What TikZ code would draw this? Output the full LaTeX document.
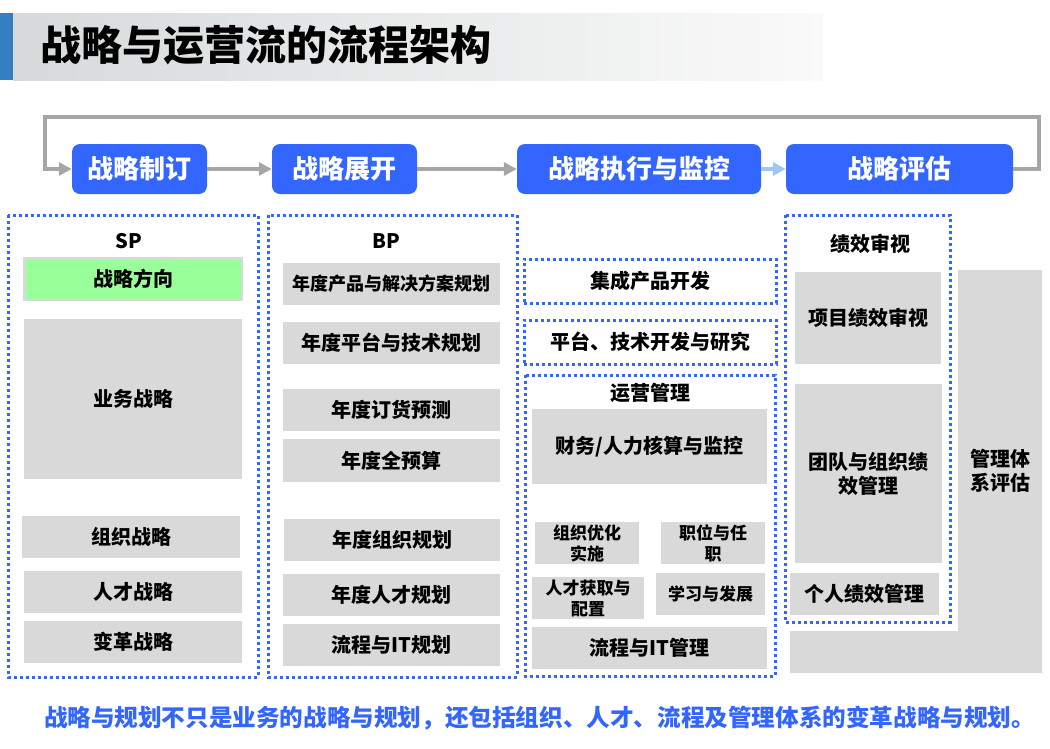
\documentclass[tikz,border=0pt]{standalone}
\usepackage{fontspec}
\usepackage{tikz}
\usepackage{color}
\usetikzlibrary{arrows.meta}
\setmainfont{Noto Sans CJK SC}
\definecolor{flowblue}{RGB}{51,102,255}
\definecolor{lightarrow}{RGB}{157,199,250}
\definecolor{arrowgray}{RGB}{166,166,166}
\definecolor{boxgray}{RGB}{217,217,217}
\definecolor{dirgreen}{RGB}{153,255,153}
\definecolor{titleblue}{RGB}{52,126,194}
\newcommand{\pxfont}[2]{\fontsize{#1}{#2}\selectfont\bfseries}

\begin{document}
\begin{tikzpicture}[x=1pt,y=-1pt,
  flow/.style={fill=flowblue,rounded corners=8pt,text=white,font=\pxfont{26}{26},inner sep=0pt},
  flowarrow/.style={draw=arrowgray,line width=4pt,-{Triangle[length=13pt,width=13pt]}},
  dotbox/.style={draw=flowblue,line width=3pt,dash pattern=on 3pt off 3pt},
  graybox/.style={fill=boxgray,inner sep=0pt,align=center,font=\pxfont{20}{24}},
  head/.style={inner sep=0pt,font=\pxfont{20}{24}}]
\useasboundingbox (0,0) rectangle (1050,748);
\fill[titleblue] (0,13) rectangle (13,80);
\shade[left color={rgb,255:red,214;green,218;blue,219},right color={rgb,255:red,250;green,250;blue,250}] (13,13) rectangle (823,80);
\node[anchor=west,inner sep=0pt,font=\pxfont{41}{41}] (title) at (40,45) {战略与运营流的流程架构};

\node[flow,minimum width=135,minimum height=50] (plan) at (139.5,169) {战略制订};
\node[flow,minimum width=145,minimum height=50] (deploy) at (344.5,169) {战略展开};
\node[flow,minimum width=244,minimum height=50] (exec) at (639,169) {战略执行与监控};
\node[flow,minimum width=227,minimum height=50] (eval) at (899.5,169) {战略评估};
\coordinate (loopR) at (1039,117);
\coordinate (loopL) at (45,117);
\draw[flowarrow] (plan) -- (deploy);
\draw[flowarrow] (deploy) -- (exec);
\draw[flowarrow,draw=lightarrow] (exec) -- (eval);
\draw[flowarrow] (eval.east) -| (loopR) -- (loopL) |- (plan.west);

\draw[dotbox] (8,215) rectangle (258,677);
\node[head] (sp) at (129,241) {SP};
\node[graybox,draw=boxgray,line width=2.5pt,fill=dirgreen,minimum width=217.5,minimum height=41.5] (dir) at (133,279) {战略方向};
\node[graybox,minimum width=218,minimum height=160] (biz) at (133,399) {业务战略};
\node[graybox,minimum width=218,minimum height=42] (org) at (131,537) {组织战略};
\node[graybox,minimum width=218,minimum height=42] (talent) at (133,592) {人才战略};
\node[graybox,minimum width=218,minimum height=42] (change) at (133,642) {变革战略};

\draw[dotbox] (268,215) rectangle (517,677);
\node[head] (bp) at (386,241) {BP};
\node[graybox,minimum width=217,minimum height=42,font=\pxfont{18}{22}] (prod) at (391.5,284) {年度产品与解决方案规划};
\node[graybox,minimum width=217,minimum height=42] (platform) at (391.5,343) {年度平台与技术规划};
\node[graybox,minimum width=217,minimum height=42] (order) at (391.5,410) {年度订货预测};
\node[graybox,minimum width=217,minimum height=43] (budget) at (391.5,460.5) {年度全预算};
\node[graybox,minimum width=216,minimum height=42] (orgplan) at (392,540) {年度组织规划};
\node[graybox,minimum width=217,minimum height=42] (talentplan) at (391.5,595) {年度人才规划};
\node[graybox,minimum width=217,minimum height=42] (itplan) at (391.5,645) {流程与IT规划};

\node[dotbox,minimum width=252,minimum height=44,font=\pxfont{20}{24}] (ipd) at (650,281) {集成产品开发};
\node[dotbox,minimum width=252,minimum height=44,font=\pxfont{20}{24}] (tech) at (650,342) {平台、技术开发与研究};
\draw[dotbox] (525,375) rectangle (775,676);
\node[head] (ops) at (650,393) {运营管理};
\node[graybox,minimum width=235,minimum height=75] (finance) at (649.5,446.5) {财务/人力核算与监控};
\node[graybox,minimum width=104,minimum height=42,font=\pxfont{17}{21}] (orgopt) at (587,543) {组织优化\\实施};
\node[graybox,minimum width=104,minimum height=42,font=\pxfont{17}{21}] (job) at (713,543) {职位与任\\职};
\node[graybox,minimum width=112,minimum height=42,font=\pxfont{17}{21}] (acquire) at (588,598) {人才获取与\\配置};
\node[graybox,minimum width=109,minimum height=42,font=\pxfont{17}{21}] (learn) at (710.5,594) {学习与发展};
\node[graybox,minimum width=235,minimum height=42] (itmgmt) at (649.5,648) {流程与IT管理};

\fill[boxgray] (958,270) -- (1042,270) -- (1042,673) -- (790,673) -- (790,631) -- (958,631) -- cycle;
\node[head,align=center] (system) at (1000,471) {管理体\\系评估};
\draw[dotbox] (785,215) rectangle (950,622);
\node[head] (review) at (870,244) {绩效审视};
\node[graybox,minimum width=146,minimum height=92] (project) at (868,318) {项目绩效审视};
\node[graybox,minimum width=147,minimum height=179] (team) at (868.5,473.5) {团队与组织绩\\效管理};
\node[graybox,minimum width=149,minimum height=42] (person) at (864.5,594) {个人绩效管理};

\node[inner sep=0pt,text=flowblue,font=\pxfont{23.6}{24}] (note) at (539.6,718) {战略与规划不只是业务的战略与规划，还包括组织、人才、流程及管理体系的变革战略与规划。};
\end{tikzpicture}
\end{document}
